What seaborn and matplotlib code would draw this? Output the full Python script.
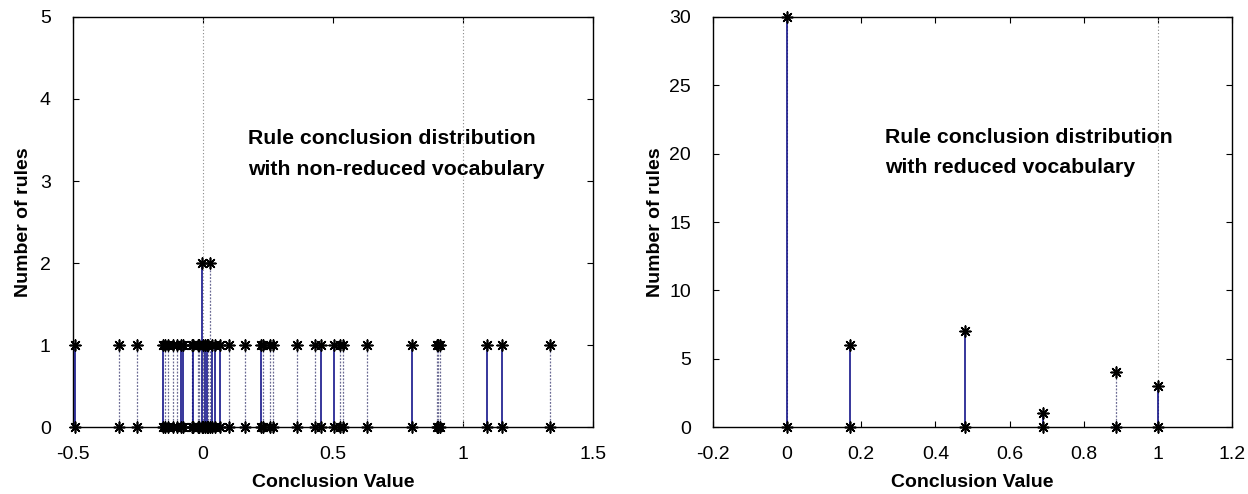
# %%
import numpy as np
import pandas as pd
import matplotlib.pyplot as plt
import seaborn as sns

# %%
# left panel: conclusion values with the non-reduced vocabulary
left_values = [-0.492, -0.322, -0.253, -0.153, -0.145, -0.133, -0.114, -0.101,
               -0.086, -0.078, -0.043, -0.037, -0.020, -0.014, -0.005, 0.001,
               0.008, 0.014, 0.021, 0.027, 0.033, 0.046, 0.065, 0.101, 0.162,
               0.223, 0.230, 0.258, 0.270, 0.360, 0.431, 0.454, 0.504, 0.527,
               0.537, 0.630, 0.803, 0.899, 0.905, 0.912, 1.091, 1.151, 1.335]
left_counts = [1, 1, 1, 1, 1, 1, 1, 1, 1, 1, 1, 1, 1, 1, 2, 1, 1, 1, 1, 2, 1, 1,
               1, 1, 1, 1, 1, 1, 1, 1, 1, 1, 1, 1, 1, 1, 1, 1, 1, 1, 1, 1, 1]
# 's' = solid stem, 'd' = dotted stem
left_styles = ['s', 'd', 'd', 's', 'd', 'd', 'd', 'd', 's', 's', 'd', 's', 'd',
               'd', 's', 'd', 's', 's', 'd', 'd', 's', 's', 's', 'd', 'd', 's',
               'd', 'd', 'd', 'd', 'd', 's', 's', 'd', 'd', 'd', 's', 'd', 'd',
               'd', 's', 's', 'd']

# right panel: conclusion values with the reduced vocabulary
right_values = [0.0, 0.170, 0.479, 0.690, 0.887, 1.0]
right_counts = [30, 6, 7, 1, 4, 3]
right_styles = ['s', 's', 's', 's', 'd', 's']

# %%
sns.set_style("white")
plt.rcParams['font.family'] = ['Liberation Sans', 'DejaVu Sans']
plt.rcParams['text.color'] = 'black'
plt.rcParams['axes.labelcolor'] = 'black'
plt.rcParams['xtick.color'] = 'black'
plt.rcParams['ytick.color'] = 'black'


def stem_panel(ax, values, counts, styles, ylab_x):
    df = pd.DataFrame({"value": values, "count": counts, "style": styles})
    solid = df[df["style"] == "s"]
    dotted = df[df["style"] == "d"]
    ax.vlines(dotted["value"], 0, dotted["count"], color='#6b6b94',
              linestyle=(0, (1.5, 1.2)), linewidth=0.9, zorder=2)
    ax.vlines(solid["value"], 0, solid["count"], color='#000080',
              linewidth=1.1, zorder=3)
    base = pd.DataFrame({"value": values, "count": [0] * len(values)})
    marks = pd.concat([df[["value", "count"]], base])
    sns.scatterplot(data=marks, x="value", y="count", ax=ax, marker=(8, 2, 0),
                    color='black', s=60, linewidth=1.2, zorder=4, clip_on=False)
    ax.axvline(0, color='#888888', linestyle=(0, (1, 2)), linewidth=0.8, zorder=1)
    ax.axvline(1, color='#888888', linestyle=(0, (1, 2)), linewidth=0.8, zorder=1)
    for sp in ax.spines.values():
        sp.set_color('black')
        sp.set_linewidth(1.0)
    ax.tick_params(direction='in', length=4, width=0.8, top=True, right=True,
                   labelsize=14, bottom=True, left=True)
    ax.tick_params(axis='x', pad=14)
    ax.tick_params(axis='y', pad=16)
    ax.set_xlabel("Conclusion Value", fontsize=14, fontweight='bold')
    ax.set_ylabel("Number of rules", fontsize=14, fontweight='bold')
    ax.xaxis.set_label_coords(0.5, -0.115)
    ax.yaxis.set_label_coords(ylab_x, 0.5)


fig = plt.figure(figsize=(12.48, 4.94), dpi=100)
ax1 = fig.add_axes([0.0585, 0.1356, 0.4167, 0.83])
ax2 = fig.add_axes([0.5713, 0.1356, 0.4159, 0.83])

stem_panel(ax1, left_values, left_counts, left_styles, -0.079)
ax1.set_xlim(-0.5, 1.5)
ax1.set_ylim(0, 5)
ax1.set_xticks([-0.5, 0, 0.5, 1, 1.5])
ax1.set_xticklabels(["-0.5", "0", "0.5", "1", "1.5"])
ax1.set_yticks([0, 1, 2, 3, 4, 5])
ax1.text(0.173, 3.33, "Rule conclusion distribution\nwith non-reduced vocabulary",
         fontsize=15.3, fontweight='bold', va='center', ha='left', linespacing=1.75)

stem_panel(ax2, right_values, right_counts, right_styles, -0.094)
ax2.set_xlim(-0.2, 1.2)
ax2.set_ylim(0, 30)
ax2.set_xticks([-0.2, 0, 0.2, 0.4, 0.6, 0.8, 1, 1.2])
ax2.set_xticklabels(["-0.2", "0", "0.2", "0.4", "0.6", "0.8", "1", "1.2"])
ax2.set_yticks([0, 5, 10, 15, 20, 25, 30])
ax2.text(0.265, 20.1, "Rule conclusion distribution\nwith reduced vocabulary",
         fontsize=15.3, fontweight='bold', va='center', ha='left', linespacing=1.75)

plt.savefig('out.png', dpi=100)
